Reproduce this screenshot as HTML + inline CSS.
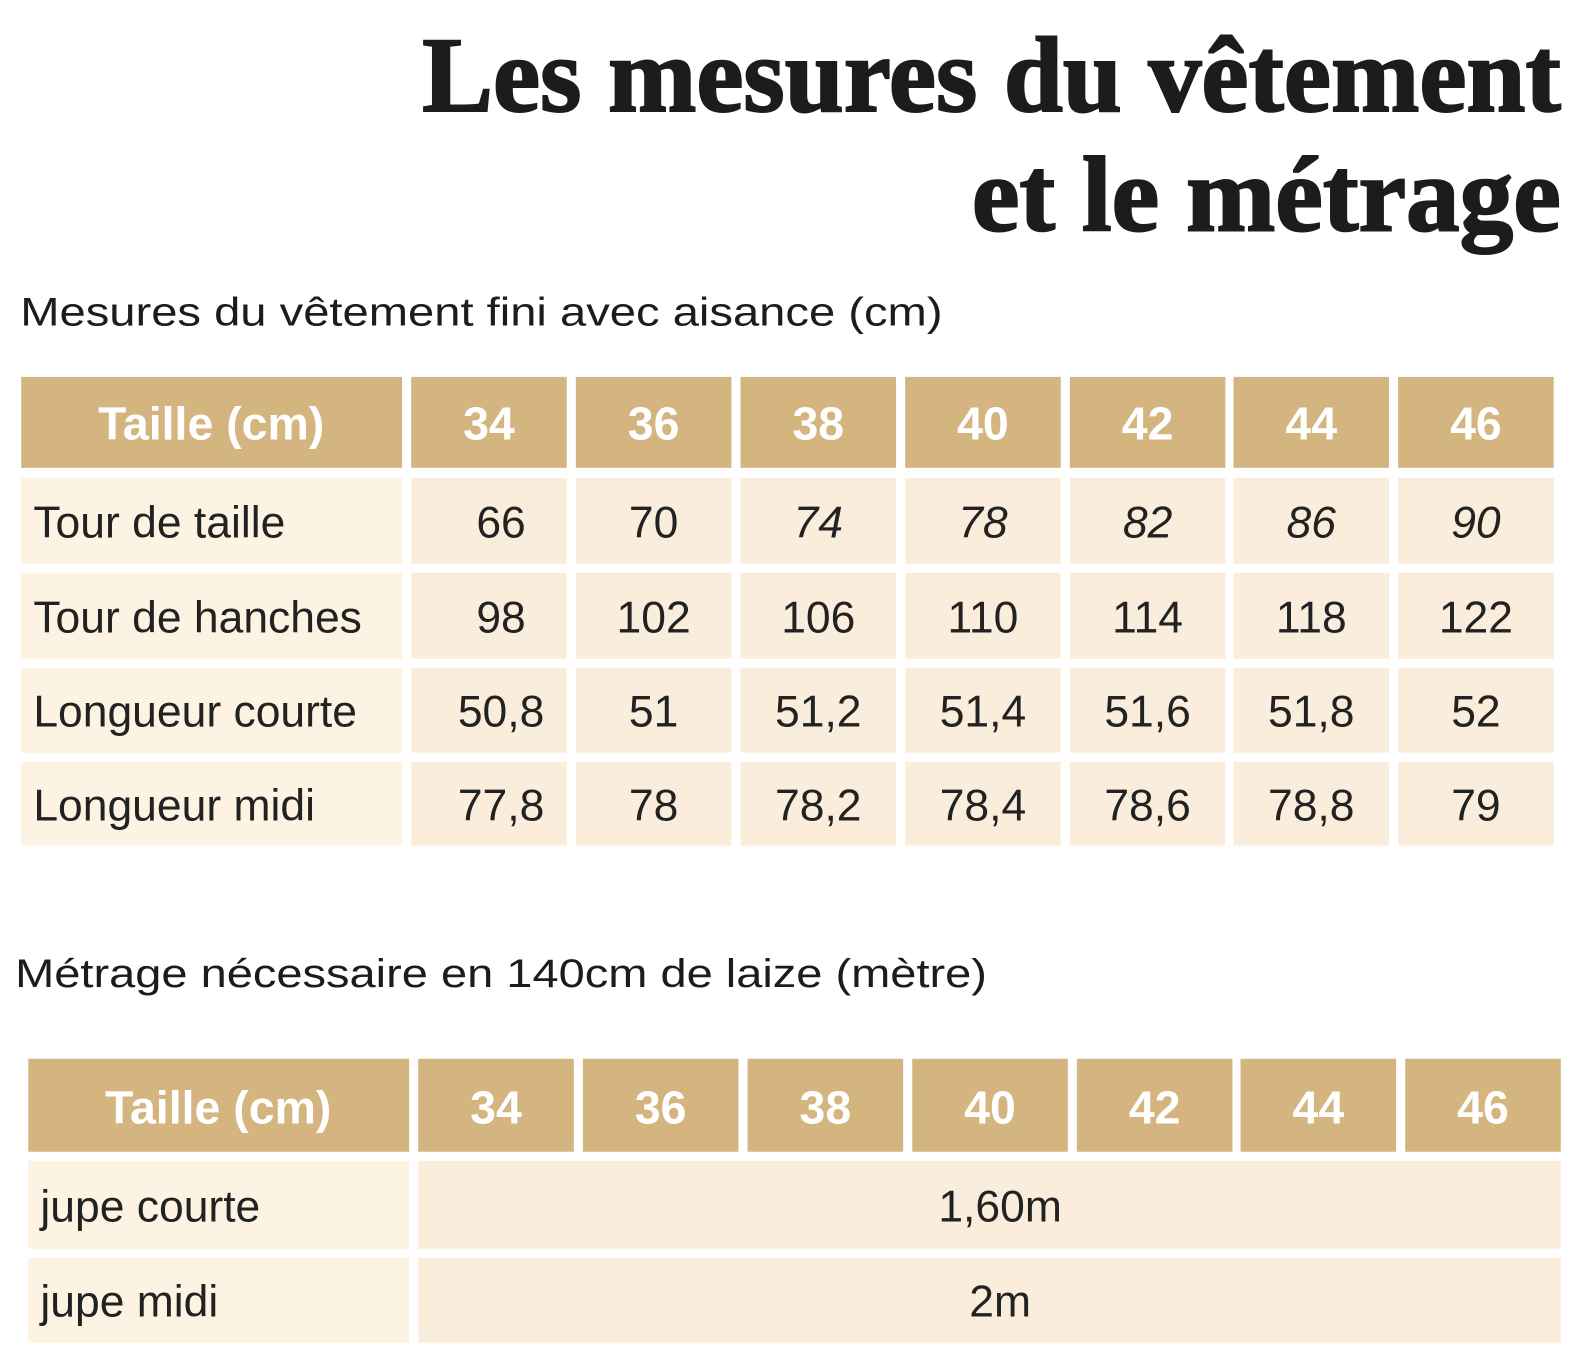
<!DOCTYPE html>
<html><head><meta charset="utf-8"><style>
html,body{margin:0;padding:0;background:#fff;}
svg{display:block}
.t{font-family:"Liberation Serif",serif;font-weight:bold;font-size:106px;fill:#1c1c1c;stroke:#1c1c1c;stroke-width:2}
.s{font-family:"Liberation Sans",sans-serif;font-size:39px;fill:#1c1c1c}
.h{font-family:"Liberation Sans",sans-serif;font-weight:bold;font-size:46px;fill:#fff;text-anchor:middle}
.c{font-family:"Liberation Sans",sans-serif;font-size:44px;fill:#222;text-anchor:middle}
.l{font-family:"Liberation Sans",sans-serif;font-size:44px;fill:#222}
.i{font-style:italic}
</style></head><body>
<svg width="1582" height="1368" viewBox="0 0 1566 1354" xmlns="http://www.w3.org/2000/svg">
<text class="t" x="1545" y="110" text-anchor="end" textLength="1127" lengthAdjust="spacingAndGlyphs">Les mesures du vêtement</text>
<text class="t" x="1545" y="228" text-anchor="end" textLength="583" lengthAdjust="spacingAndGlyphs">et le métrage</text>
<text class="s" x="20" y="322" textLength="913" lengthAdjust="spacingAndGlyphs">Mesures du vêtement fini avec aisance (cm)</text>
<text class="s" x="15" y="977" textLength="962" lengthAdjust="spacingAndGlyphs">Métrage nécessaire en 140cm de laize (mètre)</text>

<g fill="#d4b57f">
<rect x="21" y="373" width="377" height="90"/>
<rect x="407" y="373" width="154" height="90"/><rect x="570" y="373" width="154" height="90"/><rect x="733" y="373" width="154" height="90"/><rect x="896" y="373" width="154" height="90"/><rect x="1059" y="373" width="154" height="90"/><rect x="1221" y="373" width="154" height="90"/><rect x="1384" y="373" width="154" height="90"/>
</g>
<g fill="#fcf3e3">
<rect x="21" y="473" width="377" height="85"/><rect x="21" y="567" width="377" height="85"/><rect x="21" y="661" width="377" height="84"/><rect x="21" y="754" width="377" height="83"/>
</g>
<g fill="#fbeddb">
<rect x="407" y="473" width="1131" height="85"/><rect x="407" y="567" width="1131" height="85"/><rect x="407" y="661" width="1131" height="84"/><rect x="407" y="754" width="1131" height="83"/>
</g>
<g fill="#fff">
<rect x="561" y="473" width="9" height="364"/><rect x="724" y="473" width="9" height="364"/><rect x="887" y="473" width="9" height="364"/><rect x="1050" y="473" width="9" height="364"/><rect x="1213" y="473" width="8" height="364"/><rect x="1375" y="473" width="9" height="364"/>
</g>
<text class="h" x="209" y="435">Taille (cm)</text>
<text class="h" x="484" y="435">34</text><text class="h" x="647" y="435">36</text><text class="h" x="810" y="435">38</text><text class="h" x="973" y="435">40</text><text class="h" x="1136" y="435">42</text><text class="h" x="1298" y="435">44</text><text class="h" x="1461" y="435">46</text>

<text class="l" x="33" y="532">Tour de taille</text>
<text class="c" x="496" y="532">66</text><text class="c" x="647" y="532">70</text><text class="c i" x="810" y="532">74</text><text class="c i" x="973" y="532">78</text><text class="c i" x="1136" y="532">82</text><text class="c i" x="1298" y="532">86</text><text class="c i" x="1461" y="532">90</text>
<text class="l" x="33" y="626">Tour de hanches</text>
<text class="c" x="496" y="626">98</text><text class="c" x="647" y="626">102</text><text class="c" x="810" y="626">106</text><text class="c" x="973" y="626">110</text><text class="c" x="1136" y="626">114</text><text class="c" x="1298" y="626">118</text><text class="c" x="1461" y="626">122</text>
<text class="l" x="33" y="719">Longueur courte</text>
<text class="c" x="496" y="719">50,8</text><text class="c" x="647" y="719">51</text><text class="c" x="810" y="719">51,2</text><text class="c" x="973" y="719">51,4</text><text class="c" x="1136" y="719">51,6</text><text class="c" x="1298" y="719">51,8</text><text class="c" x="1461" y="719">52</text>
<text class="l" x="33" y="812">Longueur midi</text>
<text class="c" x="496" y="812">77,8</text><text class="c" x="647" y="812">78</text><text class="c" x="810" y="812">78,2</text><text class="c" x="973" y="812">78,4</text><text class="c" x="1136" y="812">78,6</text><text class="c" x="1298" y="812">78,8</text><text class="c" x="1461" y="812">79</text>

<g fill="#d4b57f">
<rect x="28" y="1048" width="377" height="92"/>
<rect x="414" y="1048" width="154" height="92"/><rect x="577" y="1048" width="154" height="92"/><rect x="740" y="1048" width="154" height="92"/><rect x="903" y="1048" width="154" height="92"/><rect x="1066" y="1048" width="154" height="92"/><rect x="1228" y="1048" width="154" height="92"/><rect x="1391" y="1048" width="154" height="92"/>
</g>
<g fill="#fcf3e3"><rect x="28" y="1149" width="377" height="87"/><rect x="28" y="1245" width="377" height="84"/></g>
<g fill="#fbeddb"><rect x="414" y="1149" width="1131" height="87"/><rect x="414" y="1245" width="1131" height="84"/></g>
<text class="h" x="216" y="1112">Taille (cm)</text>
<text class="h" x="491" y="1112">34</text><text class="h" x="654" y="1112">36</text><text class="h" x="817" y="1112">38</text><text class="h" x="980" y="1112">40</text><text class="h" x="1143" y="1112">42</text><text class="h" x="1305" y="1112">44</text><text class="h" x="1468" y="1112">46</text>
<text class="l" x="40" y="1209">jupe courte</text>
<text class="c" x="990" y="1209">1,60m</text>
<text class="l" x="40" y="1303">jupe midi</text>
<text class="c" x="990" y="1303">2m</text>
</svg>
</body></html>
